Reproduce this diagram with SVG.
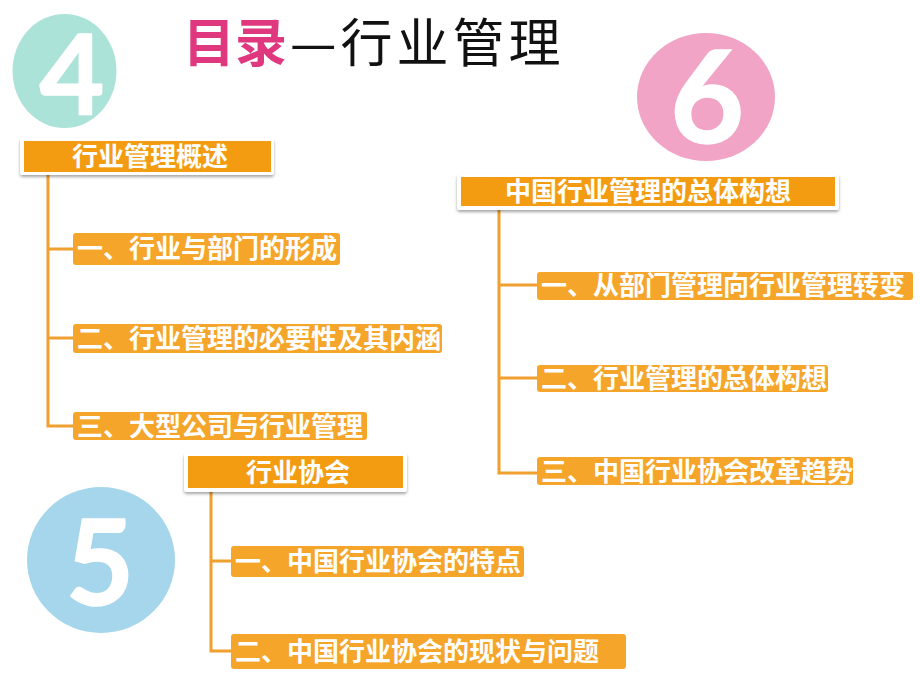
<svg xmlns="http://www.w3.org/2000/svg" width="920" height="690" viewBox="0 0 920 690">
<defs>
<filter id="sh" x="-10%" y="-30%" width="120%" height="170%">
<feDropShadow dx="0" dy="2" stdDeviation="1.5" flood-color="#000" flood-opacity="0.35"/>
</filter>
<style>
.card{fill:#ffffff;filter:url(#sh)}
.head{fill:#f39c12}
.sub{fill:#f5a52a}
.t{font-family:"Noto Sans CJK SC","Noto Sans",sans-serif;font-weight:bold;font-size:26px;fill:#ffffff}
.tc{text-anchor:middle}
.num{font-family:Lato,"Liberation Sans",sans-serif;font-weight:bold;fill:#ffffff;stroke:#ffffff;stroke-width:1.5;text-anchor:middle}
.conn{fill:none;stroke:#efa02e;stroke-width:3}
</style>
</defs>
<rect width="920" height="690" fill="#ffffff"/>
<g id="title">
<text y="62" font-size="52" font-family="Noto Sans CJK SC,sans-serif"><tspan x="183" font-weight="bold" fill="#e0387f">目录</tspan><tspan x="290" fill="#111111" letter-spacing="4">—行业管理</tspan></text>
</g>
<g id="circle4"><ellipse cx="64.5" cy="71" rx="52" ry="57" fill="#abe3d8"/><text class="num" x="72" y="115" font-size="112">4</text></g>
<g id="circle6"><ellipse cx="706" cy="97" rx="69" ry="64" fill="#f1a4c5"/><text class="num" x="707" y="143" font-size="128">6</text></g>
<g id="circle5"><ellipse cx="101" cy="560" rx="74" ry="73" fill="#a5d6ec"/><text class="num" x="100" y="605" font-size="118">5</text></g>
<g id="connectors">
<path class="conn" d="M48,173 V426 H73 M48,249 H73 M48,338 H73"/>
<path class="conn" d="M499,208 V473 H537 M499,285 H537 M499,378 H537"/>
<path class="conn" d="M211,490 V651 H231 M211,561 H231"/>
</g>
<g id="h1"><rect class="card" x="20" y="138" width="254" height="37" rx="3"/><rect class="head" x="24" y="141" width="247" height="31"/><text class="t tc" x="150" y="166">行业管理概述</text></g>
<g id="h2"><rect class="card" x="457" y="174" width="382" height="36" rx="3"/><rect class="head" x="461" y="177" width="374" height="29"/><text class="t tc" x="648" y="201">中国行业管理的总体构想</text></g>
<g id="h3"><rect class="card" x="184" y="453" width="223" height="39" rx="3"/><rect class="head" x="188" y="456" width="215" height="32"/><text class="t tc" x="298" y="482">行业协会</text></g>
<g id="l1"><rect class="sub" x="73" y="233" width="267" height="32" rx="3"/><text class="t" x="77" y="258">一、行业与部门的形成</text></g>
<g id="l2"><rect class="sub" x="73" y="324" width="369" height="29" rx="3"/><text class="t" x="77" y="348">二、行业管理的必要性及其内涵</text></g>
<g id="l3"><rect class="sub" x="73" y="412" width="294" height="28" rx="3"/><text class="t" x="77" y="436">三、大型公司与行业管理</text></g>
<g id="r1"><rect class="sub" x="537" y="272" width="376" height="28" rx="3"/><text class="t" x="541" y="295">一、从部门管理向行业管理转变</text></g>
<g id="r2"><rect class="sub" x="537" y="365" width="291" height="27" rx="3"/><text class="t" x="541" y="388">二、行业管理的总体构想</text></g>
<g id="r3"><rect class="sub" x="537" y="457" width="316" height="28" rx="3"/><text class="t" x="541" y="481">三、中国行业协会改革趋势</text></g>
<g id="b1"><rect class="sub" x="231" y="546" width="293" height="31" rx="3"/><text class="t" x="235" y="571">一、中国行业协会的特点</text></g>
<g id="b2"><rect class="sub" x="231" y="634" width="395" height="35" rx="3"/><text class="t" x="235" y="661">二、中国行业协会的现状与问题</text></g>
</svg>
